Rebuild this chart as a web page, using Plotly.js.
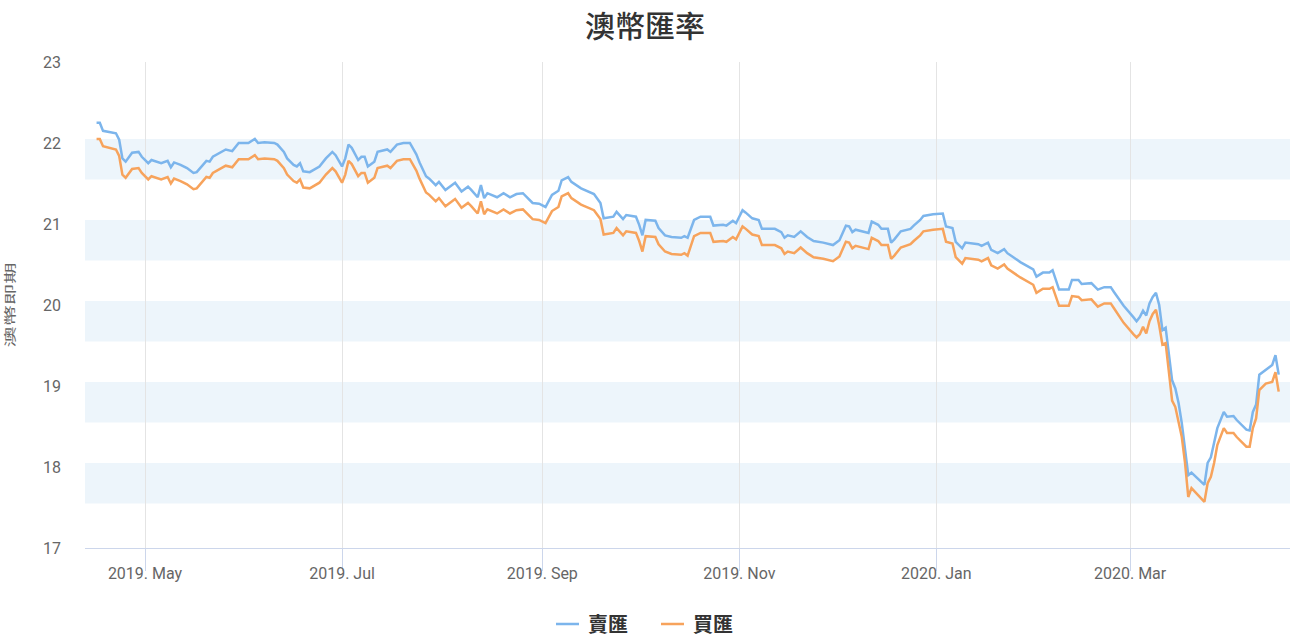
<!DOCTYPE html>
<html>
<head>
<meta charset="utf-8">
<script src="https://cdn.plot.ly/plotly-3.0.1.min.js"></script>
<style>
  html, body { margin: 0; padding: 0; background: #fff; }
  #chart { width: 1290px; height: 638px; }
</style>
</head>
<body>
<div id="chart"></div>
<script>
// ---- data ----
const dates = [
  '2019-04-16','2019-04-17','2019-04-18','2019-04-22','2019-04-23','2019-04-24','2019-04-25','2019-04-27','2019-04-29','2019-04-30',
  '2019-05-02','2019-05-03','2019-05-06','2019-05-08','2019-05-09','2019-05-10','2019-05-12','2019-05-14','2019-05-16','2019-05-17',
  '2019-05-20','2019-05-21','2019-05-22','2019-05-24','2019-05-26','2019-05-28','2019-05-29','2019-05-30',
  '2019-06-02','2019-06-04','2019-06-05','2019-06-07','2019-06-10','2019-06-11','2019-06-13','2019-06-14','2019-06-16','2019-06-17',
  '2019-06-18','2019-06-19','2019-06-21','2019-06-24','2019-06-26','2019-06-28','2019-06-29',
  '2019-07-01','2019-07-02','2019-07-03','2019-07-04','2019-07-06','2019-07-07','2019-07-08','2019-07-09','2019-07-11','2019-07-12',
  '2019-07-15','2019-07-16','2019-07-18','2019-07-20','2019-07-22','2019-07-24','2019-07-25','2019-07-27','2019-07-28','2019-07-30','2019-07-31',
  '2019-08-02','2019-08-05','2019-08-07','2019-08-09','2019-08-10','2019-08-12','2019-08-13','2019-08-14','2019-08-15','2019-08-18',
  '2019-08-20','2019-08-22','2019-08-24','2019-08-26','2019-08-29','2019-08-31',
  '2019-09-02','2019-09-04','2019-09-06','2019-09-07','2019-09-09','2019-09-10','2019-09-13','2019-09-16','2019-09-17','2019-09-19',
  '2019-09-20','2019-09-23','2019-09-24','2019-09-26','2019-09-27','2019-09-30',
  '2019-10-01','2019-10-02','2019-10-03','2019-10-06','2019-10-07','2019-10-09','2019-10-11','2019-10-14','2019-10-15','2019-10-16',
  '2019-10-18','2019-10-20','2019-10-23','2019-10-24','2019-10-27','2019-10-28','2019-10-30','2019-10-31',
  '2019-11-02','2019-11-03','2019-11-05','2019-11-07','2019-11-08','2019-11-12','2019-11-14','2019-11-15','2019-11-16','2019-11-18',
  '2019-11-20','2019-11-22','2019-11-24','2019-11-27','2019-11-30',
  '2019-12-02','2019-12-04','2019-12-05','2019-12-06','2019-12-07','2019-12-10','2019-12-11','2019-12-12','2019-12-14','2019-12-15',
  '2019-12-17','2019-12-18','2019-12-19','2019-12-21','2019-12-24','2019-12-25','2019-12-27','2019-12-28','2019-12-31',
  '2020-01-03','2020-01-04','2020-01-06','2020-01-07','2020-01-09','2020-01-10','2020-01-14','2020-01-15','2020-01-17','2020-01-18',
  '2020-01-20','2020-01-22','2020-01-23','2020-01-27','2020-01-31',
  '2020-02-01','2020-02-03','2020-02-05','2020-02-06','2020-02-08','2020-02-11','2020-02-12','2020-02-14','2020-02-15','2020-02-18',
  '2020-02-20','2020-02-22','2020-02-24','2020-02-25','2020-02-27','2020-02-28',
  '2020-03-02','2020-03-03','2020-03-04','2020-03-05','2020-03-06','2020-03-07','2020-03-08','2020-03-09','2020-03-10','2020-03-11',
  '2020-03-12','2020-03-13','2020-03-14','2020-03-15','2020-03-16','2020-03-17','2020-03-18','2020-03-19','2020-03-20','2020-03-22',
  '2020-03-24','2020-03-25','2020-03-26','2020-03-27','2020-03-28','2020-03-30','2020-03-31',
  '2020-04-02','2020-04-03','2020-04-06','2020-04-07','2020-04-08','2020-04-09','2020-04-10','2020-04-12','2020-04-14','2020-04-15','2020-04-16'
];

const sellRate = [
  22.25,22.25,22.15,22.12,22.04,21.81,21.77,21.88,21.89,21.83,
  21.75,21.79,21.75,21.78,21.70,21.76,21.73,21.69,21.63,21.64,
  21.78,21.77,21.83,21.88,21.92,21.90,21.95,22.00,
  22.00,22.05,22.00,22.01,22.00,21.98,21.89,21.81,21.73,21.71,
  21.75,21.65,21.64,21.71,21.81,21.89,21.85,
  21.71,21.81,21.98,21.94,21.79,21.83,21.83,21.71,21.77,21.89,
  21.92,21.89,21.98,22.00,22.00,21.86,21.76,21.59,21.56,21.48,21.52,
  21.42,21.51,21.40,21.46,21.42,21.33,21.48,21.32,21.38,21.33,
  21.38,21.33,21.37,21.38,21.26,21.25,
  21.21,21.36,21.41,21.54,21.58,21.52,21.44,21.38,21.37,21.26,
  21.07,21.09,21.15,21.06,21.11,21.09,
  20.99,20.86,21.05,21.04,20.95,20.86,20.84,20.83,20.85,20.83,
  21.05,21.09,21.09,20.98,20.99,20.98,21.04,21.01,
  21.17,21.14,21.07,21.05,20.94,20.94,20.90,20.83,20.86,20.84,
  20.91,20.84,20.79,20.77,20.74,
  20.80,20.98,20.97,20.90,20.93,20.90,20.89,21.03,20.99,20.94,
  20.94,20.77,20.81,20.91,20.94,20.98,21.05,21.10,21.12,
  21.13,20.97,20.95,20.78,20.70,20.77,20.75,20.73,20.77,20.68,
  20.64,20.69,20.64,20.53,20.44,
  20.35,20.40,20.40,20.43,20.19,20.19,20.31,20.31,20.26,20.27,
  20.19,20.22,20.22,20.16,20.04,19.99,
  19.85,19.80,19.85,19.93,19.87,20.02,20.10,20.15,20.00,19.69,
  19.72,19.41,19.07,18.97,18.79,18.54,18.25,17.90,17.93,17.86,
  17.78,18.05,18.12,18.30,18.48,18.68,18.62,
  18.63,18.58,18.46,18.45,18.68,18.77,19.14,19.20,19.26,19.38,19.14
];

const buyRate = [
  22.05,22.05,21.96,21.92,21.84,21.61,21.57,21.68,21.69,21.63,
  21.55,21.59,21.55,21.58,21.50,21.56,21.53,21.49,21.43,21.44,
  21.58,21.57,21.63,21.68,21.72,21.70,21.75,21.80,
  21.80,21.85,21.80,21.81,21.80,21.78,21.69,21.61,21.53,21.51,
  21.55,21.45,21.44,21.51,21.61,21.69,21.65,
  21.51,21.61,21.78,21.74,21.59,21.63,21.63,21.51,21.57,21.69,
  21.72,21.69,21.78,21.80,21.80,21.66,21.56,21.39,21.36,21.28,21.32,
  21.22,21.31,21.20,21.26,21.22,21.13,21.28,21.12,21.18,21.13,
  21.18,21.13,21.17,21.18,21.06,21.05,
  21.01,21.16,21.21,21.34,21.38,21.32,21.24,21.18,21.17,21.06,
  20.87,20.89,20.95,20.86,20.91,20.89,
  20.79,20.66,20.85,20.84,20.75,20.66,20.63,20.62,20.64,20.61,
  20.85,20.89,20.89,20.78,20.79,20.78,20.84,20.81,
  20.97,20.94,20.87,20.85,20.74,20.74,20.70,20.63,20.66,20.64,
  20.71,20.64,20.59,20.57,20.54,
  20.60,20.78,20.77,20.70,20.73,20.70,20.69,20.83,20.79,20.74,
  20.74,20.57,20.61,20.71,20.75,20.79,20.86,20.91,20.93,
  20.94,20.78,20.76,20.59,20.51,20.58,20.56,20.54,20.58,20.49,
  20.45,20.50,20.45,20.34,20.25,
  20.15,20.20,20.20,20.22,19.99,19.99,20.11,20.10,20.06,20.07,
  19.98,20.02,20.02,19.96,19.84,19.78,
  19.64,19.60,19.64,19.73,19.65,19.80,19.89,19.94,19.75,19.51,
  19.53,19.15,18.82,18.74,18.56,18.37,18.05,17.63,17.74,17.65,
  17.57,17.80,17.88,18.05,18.27,18.48,18.42,
  18.42,18.37,18.25,18.25,18.48,18.60,18.95,19.03,19.05,19.17,18.93
];

const seriesNames = ['賣匯', '買匯'];
const xTickVals = ['2019-05-01','2019-07-01','2019-09-01','2019-11-01','2020-01-01','2020-03-01'];
const yTickVals = [17, 18, 19, 20, 21, 22, 23];

// ---- styling ----
const tickFont = 'Roboto, "Liberation Sans Narrow", sans-serif';
const cjkFont = '"Noto Sans CJK TC", "Noto Sans CJK SC", sans-serif';

// alternating horizontal bands (as drawn in the reference, slightly above the half-unit ticks)
const bandShapes = yTickVals.slice(0, -2).map(v => ({
  type: 'rect', xref: 'paper', yref: 'y', layer: 'below',
  x0: 0, x1: 1, y0: v + 0.55, y1: v + 1.05,
  fillcolor: '#edf5fb', line: { width: 0 }
}));

const traces = [
  { x: dates, y: sellRate, name: seriesNames[0], type: 'scatter', mode: 'lines',
    line: { color: '#7cb5ec', width: 2.5 } },
  { x: dates, y: buyRate, name: seriesNames[1], type: 'scatter', mode: 'lines',
    line: { color: '#f7a35c', width: 2.5 } }
];

const layout = {
  width: 1290, height: 638,
  margin: { l: 85, r: 0, t: 62, b: 90 },
  paper_bgcolor: '#ffffff', plot_bgcolor: '#ffffff',
  title: {
    text: '澳幣匯率',
    font: { family: cjkFont, size: 30, color: '#333333', weight: 500 },
    x: 0.5, xref: 'container', xanchor: 'center',
    y: 1 - 26 / 638, yref: 'container', yanchor: 'middle'
  },
  xaxis: {
    type: 'date',
    range: ['2019-04-12 10:00', '2020-04-19 12:00'],
    tickvals: xTickVals, tickformat: '%Y. %b',
    showgrid: true, gridcolor: '#e4e4e4', gridwidth: 1,
    showline: true, linecolor: '#ccd6eb', linewidth: 1,
    ticks: 'outside', ticklen: 22, tickcolor: '#ccd6eb', tickwidth: 1,
    ticklabelstandoff: -11,
    tickfont: { family: tickFont, size: 16, color: '#666666' },
    zeroline: false, fixedrange: true
  },
  yaxis: {
    range: [17, 23],
    tickvals: yTickVals,
    showgrid: false, zeroline: false, showline: false, ticks: '',
    ticklabelstandoff: 23,
    tickfont: { family: tickFont, size: 16, color: '#666666' },
    title: { text: '澳幣即期', font: { family: cjkFont, size: 12, color: '#666666' }, standoff: 24 },
    automargin: false, fixedrange: true
  },
  shapes: bandShapes,
  showlegend: true,
  legend: {
    orientation: 'h',
    x: 0.5 + 8 / 1290, xref: 'container', xanchor: 'center',
    y: 1 - 624 / 638, yref: 'container', yanchor: 'middle',
    font: { family: cjkFont, size: 20, color: '#333333', weight: 700 },
    itemwidth: 30,
    entrywidth: 60, entrywidthmode: 'pixels'
  },
  hovermode: false
};

Plotly.newPlot('chart', traces, layout, { displayModeBar: false, staticPlot: true }).then(() => {
  const t = document.querySelector('.g-ytitle text');
  if (t) {
    t.setAttribute('textLength', '85');
    t.setAttribute('lengthAdjust', 'spacingAndGlyphs');
  }
  // shorter legend line symbols, as in the reference
  document.querySelectorAll('.legend .legendlines path').forEach(p => {
    p.setAttribute('d', 'M8,0h23');
  });
});
</script>
</body>
</html>
